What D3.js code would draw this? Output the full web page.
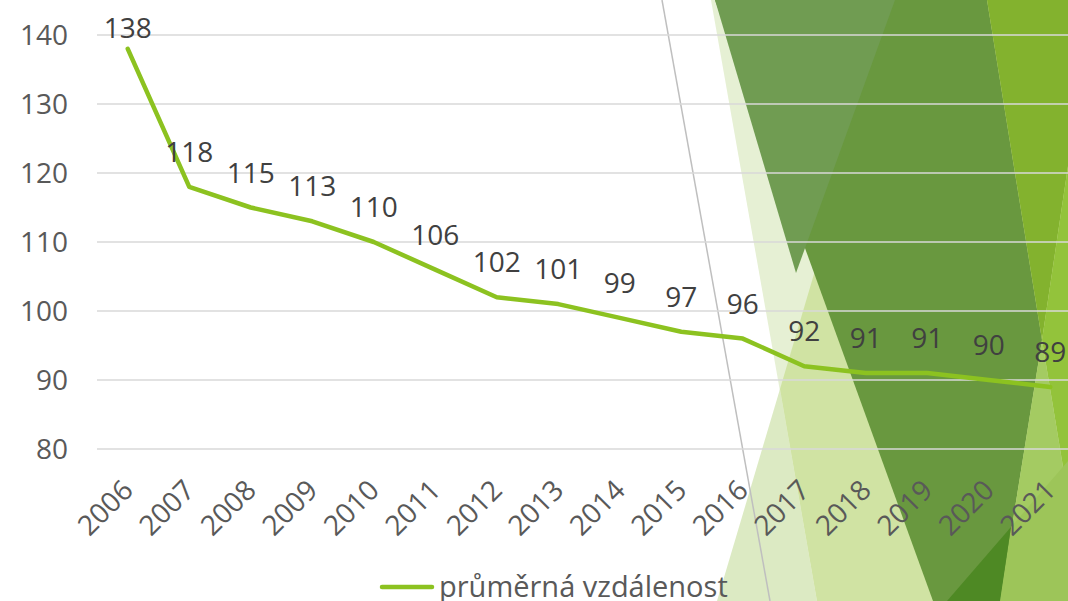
<!DOCTYPE html>
<html>
<head>
<meta charset="utf-8">
<title>průměrná vzdálenost</title>
<script src="https://cdn.jsdelivr.net/npm/d3@7/dist/d3.min.js"></script>
<style>
    body { margin: 0; background: #fff; }
    svg { display: block; font-family: "Open Sans", "Noto Sans", sans-serif; }
    .grid line { stroke: #d9d9d9; stroke-width: 1.5; }
    .tick-y { fill: #595959; font-size: 28px; }
    .tick-x { fill: #595959; font-size: 28px; }
    .label { fill: #404040; font-size: 28px; }
    .legend-text { fill: #595959; font-size: 29px; }
</style>
</head>
<body>
<script>

    var width = 1068
    var height = 601

    // data
    var years = ["2006", "2007", "2008", "2009", "2010", "2011", "2012", "2013",
        "2014", "2015", "2016", "2017", "2018", "2019", "2020", "2021"]
    var values = [138, 118, 115, 113, 110, 106, 102, 101, 99, 97, 96, 92, 91, 91, 90, 89]
    var yTicks = [80, 90, 100, 110, 120, 130, 140]
    var seriesName = "průměrná vzdálenost"

    var lineColor = "#8cc220"

    var svg = d3.select("body")
        .append("svg")
        .attr("width", width)
        .attr("height", height)

    // theme decoration on the right (slide background facets)
    var facets = [
        { fill: "#e6f0d4", pts: [[711, 0], [1068, 0], [1068, 601], [817, 601]] },
        { fill: "#dceac3", pts: [[717, 601], [780, 389], [817, 601]] },
        { fill: "#d0e3a3", pts: [[895, 0], [1068, 0], [1068, 601], [817, 601], [780, 389]] },
        { fill: "#69983f", pts: [[715, 0], [987, 0], [1042, 340], [1000, 601], [933, 601]] },
        { fill: "#709c52", pts: [[715, 0], [895, 0], [796, 273]] },
        { fill: "#83b22e", pts: [[987, 0], [1068, 0], [1068, 166], [1042, 340]] },
        { fill: "#93c33b", pts: [[1068, 166], [1042, 340], [1068, 497]] },
        { fill: "#a4cb62", pts: [[1042, 340], [1068, 497], [1068, 601], [1000, 601]] },
        { fill: "#9dc559", pts: [[1011, 527], [1068, 461], [1068, 601], [1000, 601]] },
        { fill: "#4e8924", pts: [[947, 601], [1011, 527], [1000, 601]] }
    ]

    svg.append("g")
        .selectAll("polygon")
        .data(facets)
        .enter()
        .append("polygon")
        .attr("points", function (d) { return d.pts.map(function (p) { return p.join(","); }).join(" "); })
        .attr("fill", function (d) { return d.fill; })

    svg.append("line")
        .attr("x1", 662).attr("y1", 0)
        .attr("x2", 770).attr("y2", 601)
        .attr("stroke", "#bfbfbf")
        .attr("stroke-width", 1.5)

    // scales
    var x = d3.scaleBand()
        .domain(years)
        .range([97, 97 + years.length * 61.5])

    var y = d3.scaleLinear()
        .domain([80, 140])
        .range([449, 35])

    function cx(d) { return x(d) + x.bandwidth() / 2; }

    // gridlines
    svg.append("g")
        .attr("class", "grid")
        .selectAll("line")
        .data(yTicks)
        .enter()
        .append("line")
        .attr("x1", 97)
        .attr("x2", width)
        .attr("y1", function (d) { return y(d); })
        .attr("y2", function (d) { return y(d); })

    // y axis labels
    svg.append("g")
        .selectAll("text")
        .data(yTicks)
        .enter()
        .append("text")
        .attr("class", "tick-y")
        .attr("x", 68)
        .attr("y", function (d) { return y(d) + 10; })
        .attr("text-anchor", "end")
        .text(function (d) { return d; })

    // x axis labels, rotated
    svg.append("g")
        .selectAll("text")
        .data(years)
        .enter()
        .append("text")
        .attr("class", "tick-x")
        .attr("text-anchor", "end")
        .attr("transform", function (d) {
            return "translate(" + (cx(d) + 7) + "," + (y(80) + 43) + ") rotate(-45)";
        })
        .text(function (d) { return d; })

    // line
    var line = d3.line()
        .x(function (d, i) { return cx(years[i]); })
        .y(function (d) { return y(d); })

    svg.append("path")
        .datum(values)
        .attr("fill", "none")
        .attr("stroke", lineColor)
        .attr("stroke-width", 4.5)
        .attr("stroke-linejoin", "round")
        .attr("stroke-linecap", "round")
        .attr("d", line)

    // data labels above the points
    svg.append("g")
        .selectAll("text")
        .data(values)
        .enter()
        .append("text")
        .attr("class", "label")
        .attr("text-anchor", "middle")
        .attr("x", function (d, i) { return cx(years[i]); })
        .attr("y", function (d) { return Math.max(y(d) - 25, 38); })
        .text(function (d) { return d; })

    // legend
    svg.append("line")
        .attr("x1", 382).attr("x2", 432)
        .attr("y1", 587).attr("y2", 587)
        .attr("stroke", lineColor)
        .attr("stroke-width", 4.5)
        .attr("stroke-linecap", "round")

    svg.append("text")
        .attr("class", "legend-text")
        .attr("x", 439)
        .attr("y", 597)
        .text(seriesName)

</script>
</body>
</html>
